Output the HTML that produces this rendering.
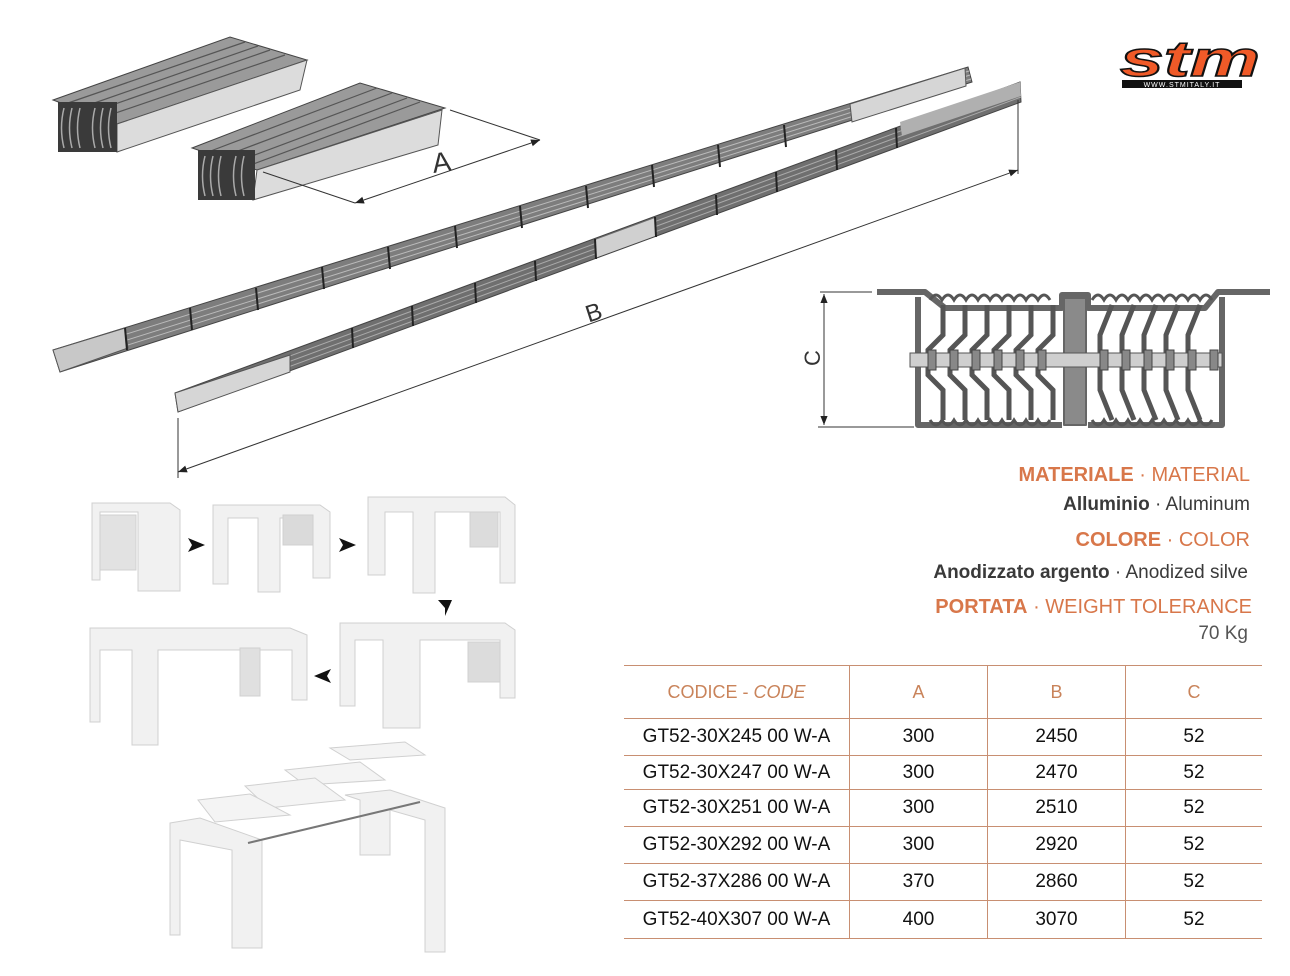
<!DOCTYPE html>
<html><head><meta charset="utf-8"><style>
html,body{margin:0;padding:0;background:#fff;}
body{width:1290px;height:976px;position:relative;overflow:hidden;font-family:"Liberation Sans",sans-serif;}
.t{position:absolute;right:40px;white-space:nowrap;}
.or{color:#d8774a;font-size:20px;}
.dk{color:#3a3a3a;font-size:19px;}
table{position:absolute;left:624px;top:665px;width:638px;border-collapse:collapse;}
td{border-top:1.5px solid #c88f72;border-bottom:1.5px solid #c88f72;text-align:center;font-size:19px;color:#111;padding:0;}
td+td{border-left:1.5px solid #c88f72;}
</style></head><body>
<svg width="1290" height="976" style="position:absolute;left:0;top:0" xmlns="http://www.w3.org/2000/svg">
<defs>
<marker id="ar" viewBox="0 0 10 10" refX="10" refY="5" markerWidth="9" markerHeight="9" orient="auto-start-reverse"><path d="M0,1 L10,5 L0,9 z" fill="#222"/></marker>
</defs>
<polygon points="53,100 230,37 307,60 117,124" fill="#9a9a9a" stroke="#444" stroke-width="1"/>
<g stroke="#555" stroke-width="1.2">
<line x1="68" y1="103" x2="245" y2="42"/><line x1="80" y1="108" x2="258" y2="46"/><line x1="92" y1="112" x2="270" y2="50"/><line x1="104" y1="117" x2="285" y2="55"/>
</g>
<polygon points="117,124 307,60 300,90 117,152" fill="#dcdcdc" stroke="#555" stroke-width="1"/>
<rect x="58" y="102" width="59" height="50" fill="#3a3a3a"/>
<g stroke="#aaa" stroke-width="1.5" fill="none"><path d="M64,108 q-5,20 0,40 M72,108 q-5,20 0,40 M80,108 q-5,20 0,40 M95,108 q-5,20 0,40 M103,108 q-5,20 0,40 M111,108 q-5,20 0,40"/></g>
<polygon points="192,148 360,83 445,108 257,170" fill="#9a9a9a" stroke="#444" stroke-width="1"/>
<g stroke="#555" stroke-width="1.2">
<line x1="208" y1="152" x2="377" y2="88"/><line x1="222" y1="157" x2="392" y2="93"/><line x1="236" y1="162" x2="407" y2="98"/><line x1="248" y1="166" x2="420" y2="102"/>
</g>
<polygon points="257,170 442,110 438,145 253,200" fill="#dcdcdc" stroke="#555" stroke-width="1"/>
<rect x="198" y="150" width="57" height="50" fill="#3a3a3a"/>
<g stroke="#aaa" stroke-width="1.5" fill="none"><path d="M205,156 q-5,20 0,40 M213,156 q-5,20 0,40 M221,156 q-5,20 0,40 M236,156 q-5,20 0,40 M244,156 q-5,20 0,40"/></g>
<g stroke="#333" stroke-width="1" fill="none">
<line x1="263" y1="172" x2="355" y2="203"/><line x1="450" y1="110" x2="540" y2="140"/>
<line x1="355" y1="203" x2="540" y2="140" marker-start="url(#ar)" marker-end="url(#ar)"/>
</g>
<text x="432" y="172" font-size="28" fill="#333" font-family="Liberation Sans" transform="rotate(-8 440 162)">A</text>
<polygon points="53,350 968,67 972,82 60,372" fill="#7d7d7d" stroke="#444" stroke-width="1"/>
<g stroke="#bbb" stroke-width="1"><line x1="56" y1="356" x2="969" y2="71"/><line x1="57" y1="362" x2="970" y2="75"/><line x1="58" y1="367" x2="971" y2="79"/></g>
<polygon points="850,104 965,68 966,86 852,122" fill="#d6d6d6" stroke="#555" stroke-width="1"/>
<polygon points="53,350 125,328 128,348 60,372" fill="#c8c8c8" stroke="#555" stroke-width="1"/>
<g stroke="#222" stroke-width="2">
<line x1="125" y1="328" x2="127" y2="350"/><line x1="190" y1="308" x2="192" y2="330"/><line x1="256" y1="288" x2="258" y2="310"/><line x1="322" y1="267" x2="324" y2="289"/><line x1="388" y1="247" x2="390" y2="269"/><line x1="455" y1="226" x2="457" y2="248"/><line x1="520" y1="206" x2="522" y2="228"/><line x1="586" y1="186" x2="588" y2="208"/><line x1="652" y1="165" x2="654" y2="187"/><line x1="718" y1="145" x2="720" y2="167"/><line x1="784" y1="125" x2="786" y2="147"/>
</g>
<polygon points="175,393 1020,82 1021,102 178,412" fill="#6f6f6f" stroke="#444" stroke-width="1"/>
<g stroke="#aaa" stroke-width="1"><line x1="176" y1="398" x2="1020" y2="87"/><line x1="177" y1="403" x2="1020" y2="92"/><line x1="177" y1="408" x2="1021" y2="97"/></g>
<polygon points="175,393 290,355 290,372 178,412" fill="#d6d6d6" stroke="#555" stroke-width="1"/>
<polygon points="595,240 655,218 655,236 595,258" fill="#d0d0d0"/>
<polygon points="900,122 1020,82 1021,96 902,136" fill="#b0b0b0"/>
<g stroke="#222" stroke-width="2">
<line x1="352" y1="328" x2="353" y2="348"/><line x1="412" y1="306" x2="413" y2="326"/><line x1="475" y1="283" x2="476" y2="303"/><line x1="535" y1="261" x2="536" y2="281"/><line x1="595" y1="239" x2="596" y2="259"/><line x1="655" y1="217" x2="656" y2="237"/><line x1="716" y1="195" x2="717" y2="215"/><line x1="776" y1="172" x2="777" y2="192"/><line x1="836" y1="150" x2="837" y2="170"/><line x1="896" y1="128" x2="897" y2="148"/>
</g>
<g stroke="#333" stroke-width="1" fill="none">
<line x1="178" y1="418" x2="178" y2="478"/><line x1="1018" y1="100" x2="1018" y2="174"/>
<line x1="178" y1="472" x2="1018" y2="170" marker-start="url(#ar)" marker-end="url(#ar)"/>
</g>
<text x="585" y="320" font-size="24" fill="#333" transform="rotate(-18 595 310)">B</text>
<g stroke="#333" stroke-width="1" fill="none">
<line x1="820" y1="292" x2="872" y2="292"/><line x1="818" y1="427" x2="914" y2="427"/>
<line x1="824" y1="294" x2="824" y2="425" marker-start="url(#ar)" marker-end="url(#ar)"/>
</g>
<text x="0" y="0" font-size="22" fill="#333" transform="translate(820,358) rotate(-90)" text-anchor="middle">C</text>
<g fill="none" stroke="#666" stroke-linejoin="round">
<path d="M877,292 L925,292 L945,308 L1062,308 L1062,295 L1088,295 L1088,308 L1205,308 L1218,292 L1270,292" stroke-width="6"/>
<path d="M918,297 L918,425 L1062,425 M1088,425 L1222,425 L1222,297" stroke-width="6"/>
<path d="M1064,298 L1064,425 L1086,425 L1086,298 Z" fill="#8a8a8a" stroke-width="2"/>
</g>
<g fill="none" stroke="#555" stroke-width="5">
<path d="M943,305 L943,335 L928,350 L928,375 L943,390 L943,420"/>
<path d="M965,305 L965,335 L950,350 L950,375 L965,390 L965,420"/>
<path d="M987,305 L987,335 L972,350 L972,375 L987,390 L987,420"/>
<path d="M1009,305 L1009,335 L994,350 L994,375 L1009,390 L1009,420"/>
<path d="M1031,305 L1031,335 L1016,350 L1016,375 L1031,390 L1031,420"/>
<path d="M1053,305 L1053,335 L1038,350 L1038,375 L1053,390 L1053,420"/>
<path d="M1112,305 L1100,335 L1100,390 L1112,420"/>
<path d="M1134,305 L1122,335 L1122,390 L1134,420"/>
<path d="M1156,305 L1144,335 L1144,390 L1156,420"/>
<path d="M1178,305 L1166,335 L1166,390 L1178,420"/>
<path d="M1200,305 L1188,335 L1188,390 L1200,420"/>
</g>
<g fill="none" stroke="#555" stroke-width="3">
<path d="M930,300 q6,-10 12,0 q6,-10 12,0 q6,-10 12,0 q6,-10 12,0 q6,-10 12,0 q6,-10 12,0 q6,-10 12,0 q6,-10 12,0 q6,-10 12,0 q6,-10 12,0 M1092,300 q6,-10 12,0 q6,-10 12,0 q6,-10 12,0 q6,-10 12,0 q6,-10 12,0 q6,-10 12,0 q6,-10 12,0 q6,-10 12,0 q6,-10 12,0 q6,-10 12,0"/>
<path d="M930,420 q6,10 12,0 q6,10 12,0 q6,10 12,0 q6,10 12,0 q6,10 12,0 q6,10 12,0 q6,10 12,0 q6,10 12,0 q6,10 12,0 q6,10 12,0 M1092,420 q6,10 12,0 q6,10 12,0 q6,10 12,0 q6,10 12,0 q6,10 12,0 q6,10 12,0 q6,10 12,0 q6,10 12,0 q6,10 12,0 q6,10 12,0"/>
</g>
<rect x="910" y="353" width="312" height="14" fill="#cfcfcf" stroke="#555" stroke-width="1"/>
<g fill="#888" stroke="#444" stroke-width="1">
<rect x="928" y="350" width="8" height="20"/><rect x="950" y="350" width="8" height="20"/><rect x="972" y="350" width="8" height="20"/><rect x="994" y="350" width="8" height="20"/><rect x="1016" y="350" width="8" height="20"/><rect x="1038" y="350" width="8" height="20"/><rect x="1100" y="350" width="8" height="20"/><rect x="1122" y="350" width="8" height="20"/><rect x="1144" y="350" width="8" height="20"/><rect x="1166" y="350" width="8" height="20"/><rect x="1188" y="350" width="8" height="20"/><rect x="1210" y="350" width="8" height="20"/>
</g>
<text x="1120" y="76" font-size="50" font-weight="bold" font-style="italic" fill="#f05a28" stroke="#111" stroke-width="1.5" font-family="Liberation Sans" textLength="140" lengthAdjust="spacingAndGlyphs">stm</text>
<rect x="1122" y="80" width="120" height="8" fill="#111"/>
<text x="1182" y="87" font-size="7" fill="#fff" text-anchor="middle" letter-spacing="1">WWW.STMITALY.IT</text>
<g fill="#f1f1f1" stroke="#d0d0d0" stroke-width="1">
<polygon points="92,503 170,503 180,510 180,591 138,591 138,512 100,512 100,580 92,580"/>
<rect x="100" y="515" width="36" height="55" fill="#e2e2e2"/>
<polygon points="213,505 320,505 330,512 330,578 313,578 313,518 280,518 280,592 258,592 258,518 228,518 228,584 213,584"/>
<rect x="283" y="515" width="30" height="30" fill="#dadada"/>
<polygon points="368,497 505,497 515,505 515,583 500,583 500,512 435,512 435,593 413,593 413,512 385,512 385,575 368,575"/>
<rect x="470" y="512" width="28" height="35" fill="#dcdcdc"/>
<polygon points="340,623 505,623 515,630 515,698 500,698 500,640 420,640 420,728 383,728 383,640 355,640 355,706 340,706"/>
<rect x="468" y="642" width="32" height="40" fill="#dcdcdc"/>
<polygon points="90,628 290,628 307,635 307,700 292,700 292,650 158,650 158,745 132,745 132,650 100,650 100,722 90,722"/>
<rect x="240" y="648" width="20" height="48" fill="#e0e0e0"/>
<polygon points="330,748 405,742 425,755 350,760" fill="#f4f4f4"/>
<polygon points="285,770 360,762 385,780 305,785" fill="#f4f4f4"/>
<polygon points="245,786 315,778 345,800 268,808" fill="#f4f4f4"/>
<polygon points="198,800 250,794 290,815 215,822" fill="#f4f4f4"/>
<polygon points="170,823 200,818 262,840 262,948 232,948 232,850 180,840 180,935 170,935"/>
<polygon points="345,795 390,790 445,808 445,952 425,952 425,820 390,810 390,855 360,855 360,800"/>
<line x1="248" y1="843" x2="420" y2="802" stroke="#777" stroke-width="2"/>
</g>
<g fill="#111">
<polygon points="188,538 205,545 188,552 192,545"/>
<polygon points="339,538 356,545 339,552 343,545"/>
<polygon points="438,600 452,600 445,616 445,608"/>
<polygon points="331,669 314,676 331,683 327,676"/>
</g>
</svg>
<div class="t or" style="top:464px"><b>MATERIALE</b> · MATERIAL</div>
<div class="t dk" style="top:494px"><b>Alluminio</b> · Aluminum</div>
<div class="t or" style="top:529px"><b>COLORE</b> · COLOR</div>
<div class="t dk" style="top:562px;right:42px"><b>Anodizzato argento</b> · Anodized silve</div>
<div class="t or" style="top:596px;right:38px"><b>PORTATA</b> · WEIGHT TOLERANCE</div>
<div class="t dk" style="top:623px;color:#555;right:42px">70 Kg</div>
<table>
<tr style="height:53px"><td style="width:225px;color:#c9835a;font-size:18px;">CODICE - <i>CODE</i></td><td style="width:137px;color:#c9835a;font-size:18px">A</td><td style="width:137px;color:#c9835a;font-size:18px">B</td><td style="color:#c9835a;font-size:18px">C</td></tr>
<tr style="height:37px"><td>GT52-30X245 00 W-A</td><td>300</td><td>2450</td><td>52</td></tr>
<tr style="height:34px"><td>GT52-30X247 00 W-A</td><td>300</td><td>2470</td><td>52</td></tr>
<tr style="height:37px"><td>GT52-30X251 00 W-A</td><td>300</td><td>2510</td><td>52</td></tr>
<tr style="height:37px"><td>GT52-30X292 00 W-A</td><td>300</td><td>2920</td><td>52</td></tr>
<tr style="height:37px"><td>GT52-37X286 00 W-A</td><td>370</td><td>2860</td><td>52</td></tr>
<tr style="height:38px"><td>GT52-40X307 00 W-A</td><td>400</td><td>3070</td><td>52</td></tr>
</table>
</body></html>
